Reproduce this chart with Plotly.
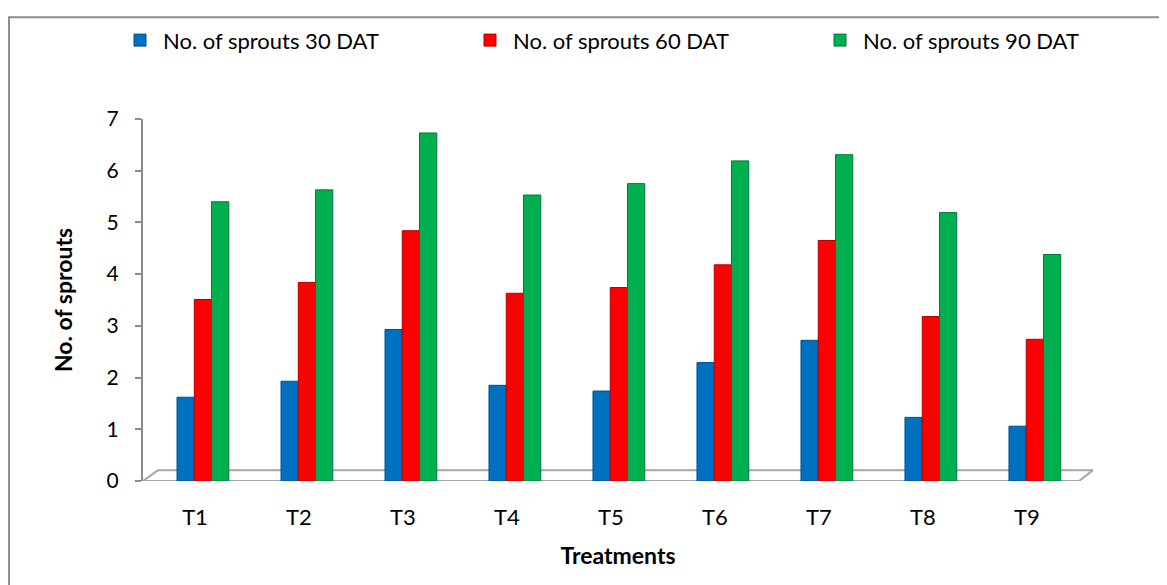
import plotly.graph_objects as go

treatments = ["T1", "T2", "T3", "T4", "T5", "T6", "T7", "T8", "T9"]
sprouts_30 = [1.62, 1.93, 2.93, 1.85, 1.74, 2.29, 2.72, 1.23, 1.06]
sprouts_60 = [3.51, 3.84, 4.84, 3.63, 3.74, 4.18, 4.65, 3.18, 2.74]
sprouts_90 = [5.40, 5.63, 6.73, 5.53, 5.75, 6.19, 6.31, 5.19, 4.38]

series_names = ["No. of sprouts 30 DAT", "No. of sprouts 60 DAT", "No. of sprouts 90 DAT"]
series_values = [sprouts_30, sprouts_60, sprouts_90]
colors = ["#0070C0", "#FF0000", "#00B050"]
edge_colors = ["#00508A", "#B00000", "#007A38"]
offsets = [-0.173, -0.007, 0.159]
bar_w = 0.166

FONT = "Lato, 'Open Sans', sans-serif"

fig = go.Figure()
for name, vals, c, ec, off in zip(series_names, series_values, colors, edge_colors, offsets):
    fig.add_trace(go.Bar(
        x=treatments, y=vals, name=name,
        marker=dict(color=c, line=dict(color=ec, width=1)),
        width=bar_w, offset=off,
    ))

floor_col = "#A6A6A6"
shapes = [
    dict(type="line", xref="x", yref="y", x0=-0.5, y0=0, x1=8.5, y1=0,
         line=dict(color=floor_col, width=2), layer="below"),
    dict(type="line", xref="x", yref="y", x0=-0.356, y0=0.21, x1=8.635, y1=0.21,
         line=dict(color=floor_col, width=2), layer="below"),
    dict(type="line", xref="x", yref="y", x0=-0.5, y0=0, x1=-0.356, y1=0.21,
         line=dict(color=floor_col, width=2), layer="below"),
    dict(type="line", xref="x", yref="y", x0=8.5, y0=0, x1=8.635, y1=0.21,
         line=dict(color=floor_col, width=2), layer="below"),
    # chart border (extends past right/bottom edges)
    dict(type="rect", xref="paper", yref="paper", x0=-0.141, y0=-0.6, x1=1.3, y1=1.281,
         line=dict(color="#8C8C8C", width=2), fillcolor="rgba(0,0,0,0)", layer="below"),
]

fig.update_layout(
    width=1159, height=577,
    margin=dict(l=135, r=74, t=110, b=104),
    paper_bgcolor="white", plot_bgcolor="white",
    barmode="overlay",
    font=dict(family=FONT, color="#000000", size=21),
    showlegend=True,
    legend=dict(
        orientation="h", x=-0.005, xanchor="left", y=1.214, yanchor="middle",
        font=dict(size=22, family=FONT), entrywidth=299, entrywidthmode="pixels",
        itemwidth=36, traceorder="normal", bgcolor="rgba(0,0,0,0)",
    ),
    shapes=shapes,
    xaxis=dict(
        type="category", range=[-0.5, 8.635], showline=False, showgrid=False,
        ticks="", tickfont=dict(size=22), ticklabelstandoff=21, zeroline=False,
        title=dict(text="<b>Treatments</b>", font=dict(size=23), standoff=18),
    ),
    yaxis=dict(
        range=[0, 7], dtick=1, showgrid=False, zeroline=False,
        showline=True, linecolor="#8C8C8C", linewidth=2,
        ticks="outside", ticklen=6, tickcolor="#8C8C8C", tickwidth=2,
        tickfont=dict(size=21), ticklabelstandoff=12,
        title=dict(text="<b>No. of sprouts</b>", font=dict(size=23), standoff=28),
    ),
)

fig.write_html("out.html")
